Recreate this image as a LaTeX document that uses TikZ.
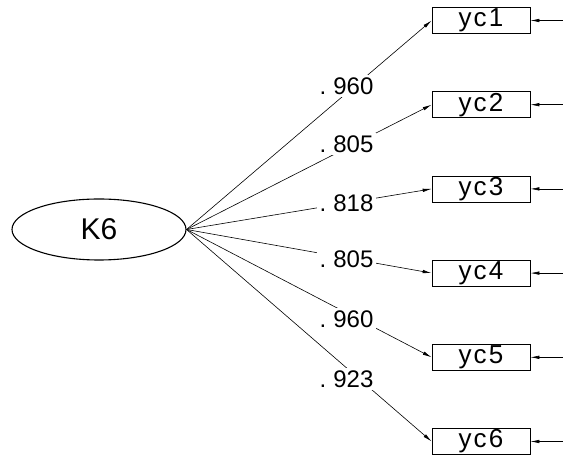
\documentclass[tikz,border=0pt]{standalone}
\usepackage{fontspec}
\setmainfont{Liberation Sans}
\usetikzlibrary{arrows.meta, positioning, shapes.geometric}

% loading value with the wide gap after the point
\newcommand{\coef}[1]{.\kern7pt#1}

\begin{document}
\begin{tikzpicture}[x=1pt, y=1pt, >={Latex[length=9pt,width=3.5pt]},
                    node distance=57.5pt, line width=0.6pt,
                    latent/.style={draw, ellipse, line width=1.1pt, minimum width=174pt,
                                   minimum height=61pt, inner sep=0pt,
                                   font=\fontsize{30}{30}\selectfont},
                    obs/.style={draw, line width=0.7pt, minimum width=98pt,
                                minimum height=26pt, inner sep=0pt,
                                font=\fontsize{26}{26}\selectfont\addfontfeatures{LetterSpace=8}},
                    loading/.style={fill=white, inner sep=2.5pt, pos=0.653,
                                    font=\fontsize{24}{24}\selectfont}]

\useasboundingbox (0,0) rectangle (563,455);

% Nodes
\node[latent] (K6) at (99,225.5) {K6};

\node[obs] (yc1) at (481,434.5) {yc1};
\node[obs, below=of yc1] (yc2) {yc2};
\node[obs, below=of yc2] (yc3) {yc3};
\node[obs, below=of yc3] (yc4) {yc4};
\node[obs, below=of yc4] (yc5) {yc5};
\node[obs, below=of yc5] (yc6) {yc6};

% Error terms
\coordinate[right=33pt of yc1] (e1);
\coordinate[right=33pt of yc2] (e2);
\coordinate[right=33pt of yc3] (e3);
\coordinate[right=33pt of yc4] (e4);
\coordinate[right=33pt of yc5] (e5);
\coordinate[right=33pt of yc6] (e6);

% Loadings
\draw[->] (K6.east) -- node[loading, yshift=7pt] {\coef{960}} (yc1.west);
\draw[->] (K6.east) -- node[loading, yshift=4pt] {\coef{805}} (yc2.west);
\draw[->] (K6.east) -- node[loading] {\coef{818}} (yc3.west);
\draw[->] (K6.east) -- node[loading, yshift=-1pt] {\coef{805}} (yc4.west);
\draw[->] (K6.east) -- node[loading, yshift=-6pt] {\coef{960}} (yc5.west);
\draw[->] (K6.east) -- node[loading, yshift=-11pt] {\coef{923}} (yc6.west);

\draw[->] (e1) -- (yc1.east);
\draw[->] (e2) -- (yc2.east);
\draw[->] (e3) -- (yc3.east);
\draw[->] (e4) -- (yc4.east);
\draw[->] (e5) -- (yc5.east);
\draw[->] (e6) -- (yc6.east);

\end{tikzpicture}
\end{document}
